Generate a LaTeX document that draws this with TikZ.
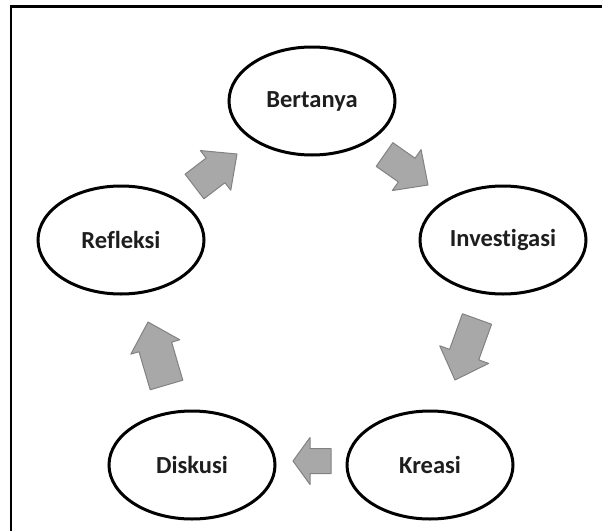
\documentclass[tikz,border=0pt]{standalone}
\usepackage{fontspec}
\setmainfont[Ligatures=NoCommon]{Carlito}
\usetikzlibrary{shapes.geometric,calc}
\definecolor{arrowfill}{RGB}{168,168,168}
\definecolor{arrowline}{RGB}{130,130,130}
\definecolor{txt}{RGB}{30,30,30}
% #1 tail, #2 tip, #3 half shaft, #4 half head, #5 head length
\newcommand\blockarr[5]{%
  \coordinate (nk) at ($(#2)!#5!(#1)$);
  \draw[barrow] ($(#1)!#3!90:(#2)$) -- ($(nk)!#3!-90:(#1)$) -- ($(nk)!#4!-90:(#1)$)
    -- (#2) -- ($(nk)!#4!90:(#1)$) -- ($(nk)!#3!90:(#1)$) -- ($(#1)!#3!-90:(#2)$) -- cycle;
}
\begin{document}
\begin{tikzpicture}[x=1pt,y=-1pt,
  stage/.style={ellipse,draw=black,line width=3pt,fill=white,
    minimum width=166pt,minimum height=108pt,inner sep=0pt,
    font=\fontsize{24.5}{28}\selectfont\bfseries,text=txt},
  barrow/.style={fill=arrowfill,draw=arrowline,line width=1pt,line join=round},
  frameline/.style={draw=black,line cap=rect}]
\useasboundingbox (0,0) rectangle (602,530);
% frame (top and left edges only)
\draw[frameline,line width=3pt] (11,6.5) -- (603,6.5);
\draw[frameline,line width=2.5pt] (11,6.5) -- (11,531);
% stages
\node[stage] (ber) at (312,101) {Bertanya};
\node[stage] (inv) at (503,240) {Investigasi};
\node[stage] (kre) at (430,465) {Kreasi};
\node[stage] (dis) at (192,465) {Diskusi};
\node[stage] (ref) at (121,240) {Refleksi};
% block arrows
\coordinate (t1) at (194.5,186.5); \coordinate (p1) at (237,154);
\coordinate (t2) at (384.5,154.5); \coordinate (p2) at (428,185);
\coordinate (t3) at (477,319);     \coordinate (p3) at (455,380);
\coordinate (t4) at (331,461);     \coordinate (p4) at (293,461);
\coordinate (t5) at (166.5,385);   \coordinate (p5) at (148,322);
\blockarr{t1}{p1}{15.5pt}{25pt}{27pt}
\blockarr{t2}{p2}{14.5pt}{25pt}{26pt}
\blockarr{t3}{p3}{15.5pt}{26pt}{27pt}
\blockarr{t4}{p4}{12.5pt}{23.5pt}{17pt}
\blockarr{t5}{p5}{17pt}{25.5pt}{26pt}
\end{tikzpicture}
\end{document}
